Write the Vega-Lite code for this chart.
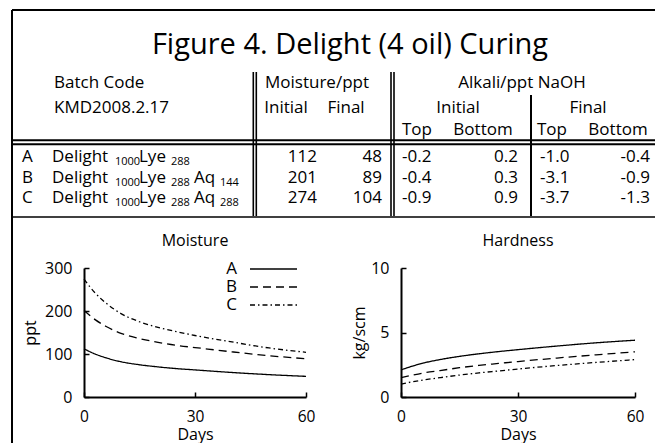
{
  "$schema": "https://vega.github.io/schema/vega-lite/v6.json",
  "width": 655,
  "height": 443,
  "autosize": "none",
  "padding": 0,
  "background": "white",
  "config": {
    "font": "Open Sans",
    "view": {"stroke": null},
    "axis": {
      "domainColor": "black", "domainWidth": 2, "tickColor": "black", "tickWidth": 1.5, "tickSize": -5,
      "labelColor": "black", "labelFontSize": 16, "labelFlush": false, "labelOverlap": false,
      "titleFontSize": 16, "titleFontWeight": "normal", "titleColor": "black", "grid": false
    },
    "axisX": {"labelPadding": 17.5, "titlePadding": 1, "labelFontSize": 15.5},
    "axisY": {"labelPadding": 17, "titlePadding": 6}
  },
  "datasets": {
    "cells": [
      {"text": "Figure 4. Delight (4 oil) Curing", "x": 350, "y": 54, "role": "title"},
      {"text": "Batch Code", "x": 54, "y": 88, "role": "l"},
      {"text": "KMD2008.2.17", "x": 54, "y": 113, "role": "l"},
      {"text": "Moisture/ppt", "x": 317, "y": 88, "role": "c"},
      {"text": "Alkali/ppt NaOH", "x": 522, "y": 88, "role": "c"},
      {"text": "Initial", "x": 286, "y": 113, "role": "c"},
      {"text": "Final", "x": 346, "y": 113, "role": "c"},
      {"text": "Initial", "x": 458, "y": 113, "role": "c"},
      {"text": "Final", "x": 588, "y": 113, "role": "c"},
      {"text": "Top", "x": 417, "y": 135, "role": "c"},
      {"text": "Bottom", "x": 483, "y": 135, "role": "c"},
      {"text": "Top", "x": 552, "y": 135, "role": "c"},
      {"text": "Bottom", "x": 618, "y": 135, "role": "c"},
      {"text": "A", "x": 22, "y": 162, "role": "l"},
      {"text": "B", "x": 22, "y": 183, "role": "l"},
      {"text": "C", "x": 22, "y": 203, "role": "l"},
      {"text": "Delight", "x": 52, "y": 162, "role": "l"},
      {"text": "Delight", "x": 52, "y": 183, "role": "l"},
      {"text": "Delight", "x": 52, "y": 203, "role": "l"},
      {"text": "Lye", "x": 139, "y": 162, "role": "l"},
      {"text": "Lye", "x": 139, "y": 183, "role": "l"},
      {"text": "Lye", "x": 139, "y": 203, "role": "l"},
      {"text": "Aq", "x": 194, "y": 183, "role": "l"},
      {"text": "Aq", "x": 194, "y": 203, "role": "l"},
      {"text": "1000", "x": 115, "y": 165, "role": "s"},
      {"text": "288", "x": 171, "y": 165, "role": "s"},
      {"text": "1000", "x": 115, "y": 186, "role": "s"},
      {"text": "288", "x": 171, "y": 186, "role": "s"},
      {"text": "144", "x": 220, "y": 186, "role": "s"},
      {"text": "1000", "x": 115, "y": 206, "role": "s"},
      {"text": "288", "x": 171, "y": 206, "role": "s"},
      {"text": "288", "x": 220, "y": 206, "role": "s"},
      {"text": "112", "x": 317, "y": 162, "role": "r"},
      {"text": "48", "x": 382, "y": 162, "role": "r"},
      {"text": "201", "x": 317, "y": 183, "role": "r"},
      {"text": "89", "x": 382, "y": 183, "role": "r"},
      {"text": "274", "x": 317, "y": 203, "role": "r"},
      {"text": "104", "x": 382, "y": 203, "role": "r"},
      {"text": "-0.2", "x": 402, "y": 162, "role": "l"},
      {"text": "-0.4", "x": 402, "y": 183, "role": "l"},
      {"text": "-0.9", "x": 402, "y": 203, "role": "l"},
      {"text": "0.2", "x": 518, "y": 162, "role": "r"},
      {"text": "0.3", "x": 518, "y": 183, "role": "r"},
      {"text": "0.9", "x": 518, "y": 203, "role": "r"},
      {"text": "-1.0", "x": 540, "y": 162, "role": "l"},
      {"text": "-3.1", "x": 540, "y": 183, "role": "l"},
      {"text": "-3.7", "x": 540, "y": 203, "role": "l"},
      {"text": "-0.4", "x": 650, "y": 162, "role": "r"},
      {"text": "-0.9", "x": 650, "y": 183, "role": "r"},
      {"text": "-1.3", "x": 650, "y": 203, "role": "r"},
      {"text": "Moisture", "x": 195, "y": 246, "role": "ct"},
      {"text": "Hardness", "x": 518, "y": 246, "role": "ct"}
    ],
    "rules": [
      {"x": 12, "y": 10, "x2": 655, "y2": 10, "kind": "frame"},
      {"x": 12, "y": 10, "x2": 12, "y2": 443, "kind": "frame"},
      {"x": 12, "y": 140.2, "x2": 655, "y2": 140.2, "kind": "frame"},
      {"x": 12, "y": 144.2, "x2": 655, "y2": 144.2, "kind": "frame"},
      {"x": 531, "y": 95, "x2": 531, "y2": 216, "kind": "frame"},
      {"x": 253.3, "y": 72, "x2": 253.3, "y2": 216, "kind": "double"},
      {"x": 256.3, "y": 72, "x2": 256.3, "y2": 216, "kind": "double"},
      {"x": 391, "y": 72, "x2": 391, "y2": 216, "kind": "double"},
      {"x": 394, "y": 72, "x2": 394, "y2": 216, "kind": "double"},
      {"x": 12, "y": 217, "x2": 655, "y2": 217, "kind": "bottom"}
    ],
    "moisture": [
      {"batch": "A", "day": 0, "ppt": 112}, {"batch": "A", "day": 3, "ppt": 100}, {"batch": "A", "day": 6, "ppt": 91},
      {"batch": "A", "day": 10, "ppt": 82}, {"batch": "A", "day": 15, "ppt": 75}, {"batch": "A", "day": 20, "ppt": 70},
      {"batch": "A", "day": 25, "ppt": 66}, {"batch": "A", "day": 30, "ppt": 63}, {"batch": "A", "day": 40, "ppt": 57},
      {"batch": "A", "day": 50, "ppt": 52}, {"batch": "A", "day": 60, "ppt": 48},
      {"batch": "B", "day": 0, "ppt": 201}, {"batch": "B", "day": 3, "ppt": 180}, {"batch": "B", "day": 6, "ppt": 164},
      {"batch": "B", "day": 10, "ppt": 148}, {"batch": "B", "day": 15, "ppt": 136}, {"batch": "B", "day": 20, "ppt": 127},
      {"batch": "B", "day": 25, "ppt": 120}, {"batch": "B", "day": 30, "ppt": 115}, {"batch": "B", "day": 40, "ppt": 105},
      {"batch": "B", "day": 50, "ppt": 96}, {"batch": "B", "day": 60, "ppt": 89},
      {"batch": "C", "day": 0, "ppt": 274}, {"batch": "C", "day": 3, "ppt": 242}, {"batch": "C", "day": 6, "ppt": 218},
      {"batch": "C", "day": 10, "ppt": 194}, {"batch": "C", "day": 15, "ppt": 175}, {"batch": "C", "day": 20, "ppt": 162},
      {"batch": "C", "day": 25, "ppt": 152}, {"batch": "C", "day": 30, "ppt": 143}, {"batch": "C", "day": 40, "ppt": 128},
      {"batch": "C", "day": 50, "ppt": 114}, {"batch": "C", "day": 60, "ppt": 104}
    ],
    "hardness": [
      {"batch": "A", "day": 0, "kg": 2.1}, {"batch": "A", "day": 3, "kg": 2.4}, {"batch": "A", "day": 6, "kg": 2.65},
      {"batch": "A", "day": 10, "kg": 2.9}, {"batch": "A", "day": 15, "kg": 3.15}, {"batch": "A", "day": 20, "kg": 3.35},
      {"batch": "A", "day": 25, "kg": 3.52}, {"batch": "A", "day": 30, "kg": 3.67}, {"batch": "A", "day": 40, "kg": 3.95},
      {"batch": "A", "day": 50, "kg": 4.2}, {"batch": "A", "day": 60, "kg": 4.4},
      {"batch": "B", "day": 0, "kg": 1.5}, {"batch": "B", "day": 3, "kg": 1.7}, {"batch": "B", "day": 6, "kg": 1.88},
      {"batch": "B", "day": 10, "kg": 2.05}, {"batch": "B", "day": 15, "kg": 2.27}, {"batch": "B", "day": 20, "kg": 2.45},
      {"batch": "B", "day": 25, "kg": 2.6}, {"batch": "B", "day": 30, "kg": 2.75}, {"batch": "B", "day": 40, "kg": 3.02},
      {"batch": "B", "day": 50, "kg": 3.27}, {"batch": "B", "day": 60, "kg": 3.5},
      {"batch": "C", "day": 0, "kg": 1.0}, {"batch": "C", "day": 3, "kg": 1.18}, {"batch": "C", "day": 6, "kg": 1.33},
      {"batch": "C", "day": 10, "kg": 1.5}, {"batch": "C", "day": 15, "kg": 1.7}, {"batch": "C", "day": 20, "kg": 1.87},
      {"batch": "C", "day": 25, "kg": 2.02}, {"batch": "C", "day": 30, "kg": 2.17}, {"batch": "C", "day": 40, "kg": 2.44},
      {"batch": "C", "day": 50, "kg": 2.68}, {"batch": "C", "day": 60, "kg": 2.9}
    ],
    "batches": [{"batch": "A"}, {"batch": "B"}, {"batch": "C"}]
  },
  "layer": [
    {
      "encoding": {
        "x": {"field": "x", "type": "quantitative", "scale": {"domain": [0, 655], "range": [0, 655], "nice": false, "zero": false}, "axis": null},
        "y": {"field": "y", "type": "quantitative", "scale": {"domain": [0, 443], "range": [0, 443], "nice": false, "zero": false}, "axis": null}
      },
      "layer": [
        {"data": {"name": "rules"}, "transform": [{"filter": "datum.kind == 'frame'"}],
         "mark": {"type": "rule", "color": "black", "strokeWidth": 2},
         "encoding": {"x2": {"field": "x2"}, "y2": {"field": "y2"}}},
        {"data": {"name": "rules"}, "transform": [{"filter": "datum.kind == 'double'"}],
         "mark": {"type": "rule", "color": "black", "strokeWidth": 1.6},
         "encoding": {"x2": {"field": "x2"}, "y2": {"field": "y2"}}},
        {"data": {"name": "rules"}, "transform": [{"filter": "datum.kind == 'bottom'"}],
         "mark": {"type": "rule", "color": "black", "strokeWidth": 1.3},
         "encoding": {"x2": {"field": "x2"}, "y2": {"field": "y2"}}},
        {"data": {"name": "cells"}, "transform": [{"filter": "datum.role == 'title'"}],
         "mark": {"type": "text", "align": "center", "baseline": "alphabetic", "fontSize": 29, "color": "black"},
         "encoding": {"text": {"field": "text"}}},
        {"data": {"name": "cells"}, "transform": [{"filter": "datum.role == 'l'"}],
         "mark": {"type": "text", "align": "left", "baseline": "alphabetic", "fontSize": 17, "color": "black"},
         "encoding": {"text": {"field": "text"}}},
        {"data": {"name": "cells"}, "transform": [{"filter": "datum.role == 'c'"}],
         "mark": {"type": "text", "align": "center", "baseline": "alphabetic", "fontSize": 17, "color": "black"},
         "encoding": {"text": {"field": "text"}}},
        {"data": {"name": "cells"}, "transform": [{"filter": "datum.role == 'r'"}],
         "mark": {"type": "text", "align": "right", "baseline": "alphabetic", "fontSize": 17, "color": "black"},
         "encoding": {"text": {"field": "text"}}},
        {"data": {"name": "cells"}, "transform": [{"filter": "datum.role == 's'"}],
         "mark": {"type": "text", "align": "left", "baseline": "alphabetic", "fontSize": 11, "color": "black"},
         "encoding": {"text": {"field": "text"}}},
        {"data": {"name": "cells"}, "transform": [{"filter": "datum.role == 'ct'"}],
         "mark": {"type": "text", "align": "center", "baseline": "alphabetic", "fontSize": 16, "color": "black"},
         "encoding": {"text": {"field": "text"}}}
      ]
    },
    {
      "data": {"name": "moisture"},
      "mark": {"type": "line", "color": "black", "strokeWidth": 1.3, "interpolate": "monotone"},
      "encoding": {
        "x": {"field": "day", "type": "quantitative", "scale": {"domain": [0, 60], "range": [84, 306], "nice": false},
              "axis": {"orient": "bottom", "offset": -46, "values": [0, 30, 60], "title": "Days"}},
        "y": {"field": "ppt", "type": "quantitative", "scale": {"domain": [0, 300], "range": [397, 268], "nice": false},
              "axis": {"orient": "left", "offset": -84, "values": [0, 100, 200, 300], "title": "ppt"}},
        "strokeDash": {"field": "batch", "type": "nominal",
                       "scale": {"domain": ["A", "B", "C"], "range": [[1, 0], [8, 5], [5, 3, 1.5, 3]]}, "legend": null}
      }
    },
    {
      "data": {"name": "hardness"},
      "mark": {"type": "line", "color": "black", "strokeWidth": 1.3, "interpolate": "monotone"},
      "encoding": {
        "x": {"field": "day", "type": "quantitative", "scale": {"domain": [0, 60], "range": [401, 635], "nice": false},
              "axis": {"orient": "bottom", "offset": -46, "values": [0, 30, 60], "title": "Days"}},
        "y": {"field": "kg", "type": "quantitative", "scale": {"domain": [0, 10], "range": [397, 268], "nice": false},
              "axis": {"orient": "left", "offset": -401, "values": [0, 5, 10], "title": "kg/scm", "titlePadding": 3}},
        "strokeDash": {"field": "batch", "type": "nominal", "legend": null}
      }
    },
    {
      "data": {"name": "batches"},
      "encoding": {
        "y": {"field": "batch", "type": "nominal", "scale": {"type": "point", "domain": ["A", "B", "C"], "range": [269, 305], "padding": 0}, "axis": null}
      },
      "layer": [
        {"mark": {"type": "rule", "color": "black", "strokeWidth": 1.3},
         "encoding": {
           "x": {"datum": 0, "type": "quantitative", "scale": {"domain": [0, 1], "range": [250, 297], "nice": false, "zero": false}, "axis": null},
           "x2": {"datum": 1},
           "strokeDash": {"field": "batch", "type": "nominal", "legend": null}
         }},
        {"mark": {"type": "text", "align": "right", "baseline": "middle", "dx": -13, "fontSize": 17, "color": "black"},
         "encoding": {
           "x": {"datum": 0, "type": "quantitative"},
           "text": {"field": "batch"}
         }}
      ]
    }
  ],
  "resolve": {"scale": {"x": "independent", "y": "independent"}, "axis": {"x": "independent", "y": "independent"}}
}
